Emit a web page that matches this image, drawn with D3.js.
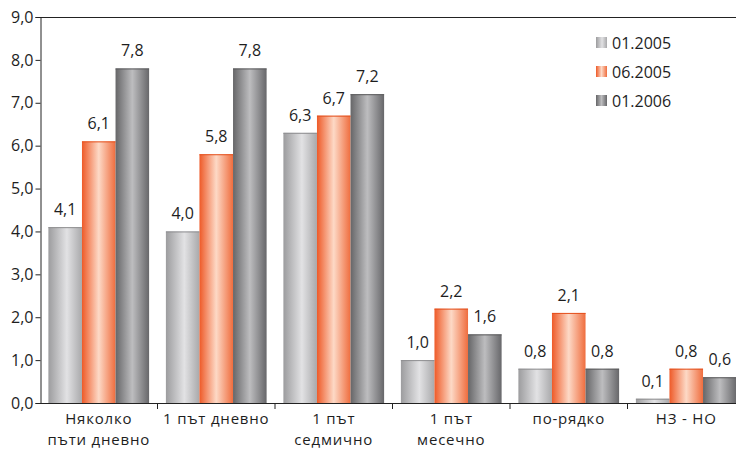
<!DOCTYPE html>
<html>
<head>
<meta charset="utf-8">
<script src="https://cdn.jsdelivr.net/npm/d3@7"></script>
<style>
  html, body { margin: 0; padding: 0; background: #fff; }
  svg { display: block; }
  text { font-family: "Open Sans", "Noto Sans", sans-serif; fill: #1e1e1e; }
</style>
</head>
<body>
<svg id="chart" width="736" height="450"></svg>
<script>
// Categories (each may wrap onto two lines)
const categories = [
  ["Няколко", "пъти дневно"],
  ["1 път дневно"],
  ["1 път", "седмично"],
  ["1 път", "месечно"],
  ["по-рядко"],
  ["НЗ - НО"]
];
const seriesNames = ["01.2005", "06.2005", "01.2006"];
const values2005a = [4.1, 4.0, 6.3, 1.0, 0.8, 0.1];
const values2005b = [6.1, 5.8, 6.7, 2.2, 2.1, 0.8];
const values2006  = [7.8, 7.8, 7.2, 1.6, 0.8, 0.6];
const yTicks = [0, 1, 2, 3, 4, 5, 6, 7, 8, 9];

const seriesValues = [values2005a, values2005b, values2006];
const fmt = v => d3.format(".1f")(v).replace(".", ",");

const svg = d3.select("#chart");
const margin = { left: 40, top: 17, bottom: 403, right: 745 };

const x0 = d3.scaleBand()
  .domain(d3.range(categories.length))
  .range([margin.left, margin.right])
  .paddingInner(0)
  .paddingOuter(0);
const x1 = d3.scaleBand()
  .domain(d3.range(seriesNames.length))
  .range([0, x0.bandwidth()])
  .paddingOuter(0.25)
  .paddingInner(0);
const y = d3.scaleLinear().domain([0, 9]).range([margin.bottom, margin.top]);

// Horizontal gradients giving the bars a cylindrical look
const defs = svg.append("defs");
const gradStops = [
  [["0%", "#9c9c9e"], ["55%", "#e2e2e4"], ["100%", "#a9a9ab"]],
  [["0%", "#ee5a28"], ["50%", "#fdd9c6"], ["100%", "#ef6d3e"]],
  [["0%", "#666668"], ["50%", "#bdbdbf"], ["100%", "#67676a"]]
];
gradStops.forEach((stops, i) => {
  const g = defs.append("linearGradient")
    .attr("id", "grad" + i)
    .attr("x1", "0%").attr("x2", "100%").attr("y1", "0%").attr("y2", "0%");
  stops.forEach(s => g.append("stop").attr("offset", s[0]).attr("stop-color", s[1]));
});
const edgeColors = ["#8e8e90", "#e4501e", "#5a5a5c"];

// Top border of the plot area
svg.append("line")
  .attr("x1", margin.left).attr("x2", 736)
  .attr("y1", margin.top + 0.5).attr("y2", margin.top + 0.5)
  .attr("stroke", "#222").attr("stroke-width", 1);

// Bars
const groups = svg.append("g").selectAll("g")
  .data(categories.map((c, i) => i))
  .join("g")
  .attr("transform", i => `translate(${x0(i)},0)`);

const cell = i => seriesValues.map((vals, s) => ({ s, v: vals[i] }));

groups.selectAll("rect")
  .data(cell)
  .join("rect")
  .attr("x", d => x1(d.s))
  .attr("width", x1.bandwidth())
  .attr("y", d => y(d.v))
  .attr("height", d => y(0) - y(d.v))
  .attr("fill", d => `url(#grad${d.s})`);

// Thin top edge on each bar
groups.selectAll("line.edge")
  .data(cell)
  .join("line")
  .attr("class", "edge")
  .attr("x1", d => x1(d.s)).attr("x2", d => x1(d.s) + x1.bandwidth())
  .attr("y1", d => y(d.v) + 0.5).attr("y2", d => y(d.v) + 0.5)
  .attr("stroke", d => edgeColors[d.s]).attr("stroke-width", 1);

// Value labels
groups.selectAll("text.val")
  .data(cell)
  .join("text")
  .attr("class", "val")
  .attr("x", d => x1(d.s) + x1.bandwidth() / 2)
  .attr("y", d => y(d.v) - 12)
  .attr("text-anchor", "middle")
  .attr("font-size", 16)
  .text(d => fmt(d.v));

// Y axis
const yAxis = d3.axisLeft(y).tickValues(yTicks).tickSize(5).tickFormat(fmt);
const gy = svg.append("g").attr("transform", `translate(${margin.left + 0.5},0)`).call(yAxis);
gy.select(".domain").attr("stroke", "#222");
gy.selectAll(".tick line").attr("stroke", "#222");
gy.selectAll(".tick text").attr("font-size", 16).attr("fill", "#1e1e1e").attr("x", -7)
  .style("font-family", '"Open Sans", sans-serif');

// X axis: ticks at band boundaries
const gx = svg.append("g").attr("transform", `translate(0,${margin.bottom})`);
gx.append("line").attr("x1", margin.left).attr("x2", 736)
  .attr("y1", 0.5).attr("y2", 0.5).attr("stroke", "#222");
gx.selectAll("line.tk")
  .data(d3.range(1, categories.length))
  .join("line")
  .attr("class", "tk")
  .attr("x1", i => x0(i)).attr("x2", i => x0(i))
  .attr("y1", 0).attr("y2", 6).attr("stroke", "#222");

// Category labels
gx.selectAll("text.cat")
  .data(categories.map((c, i) => ({ c, i })))
  .join("text")
  .attr("class", "cat")
  .attr("text-anchor", "middle")
  .attr("font-size", 15)
  .attr("letter-spacing", 0.8)
  .attr("x", d => x0(d.i) + x0.bandwidth() / 2)
  .attr("y", 21)
  .selectAll("tspan")
  .data(d => d.c.map((line, k) => ({ line, k, x: x0(d.i) + x0.bandwidth() / 2 })))
  .join("tspan")
  .attr("x", d => d.x)
  .attr("dy", d => d.k === 0 ? 0 : 21)
  .text(d => d.line);

// Legend
const legend = svg.append("g").attr("transform", "translate(596,37)");
const items = legend.selectAll("g")
  .data(seriesNames.map((n, i) => ({ n, i })))
  .join("g")
  .attr("transform", d => `translate(0,${d.i * 29})`);
items.append("rect")
  .attr("width", 11).attr("height", 11)
  .attr("fill", d => `url(#grad${d.i})`);
items.append("text")
  .attr("x", 16).attr("y", 12)
  .attr("font-size", 16)
  .text(d => d.n);
</script>
</body>
</html>
